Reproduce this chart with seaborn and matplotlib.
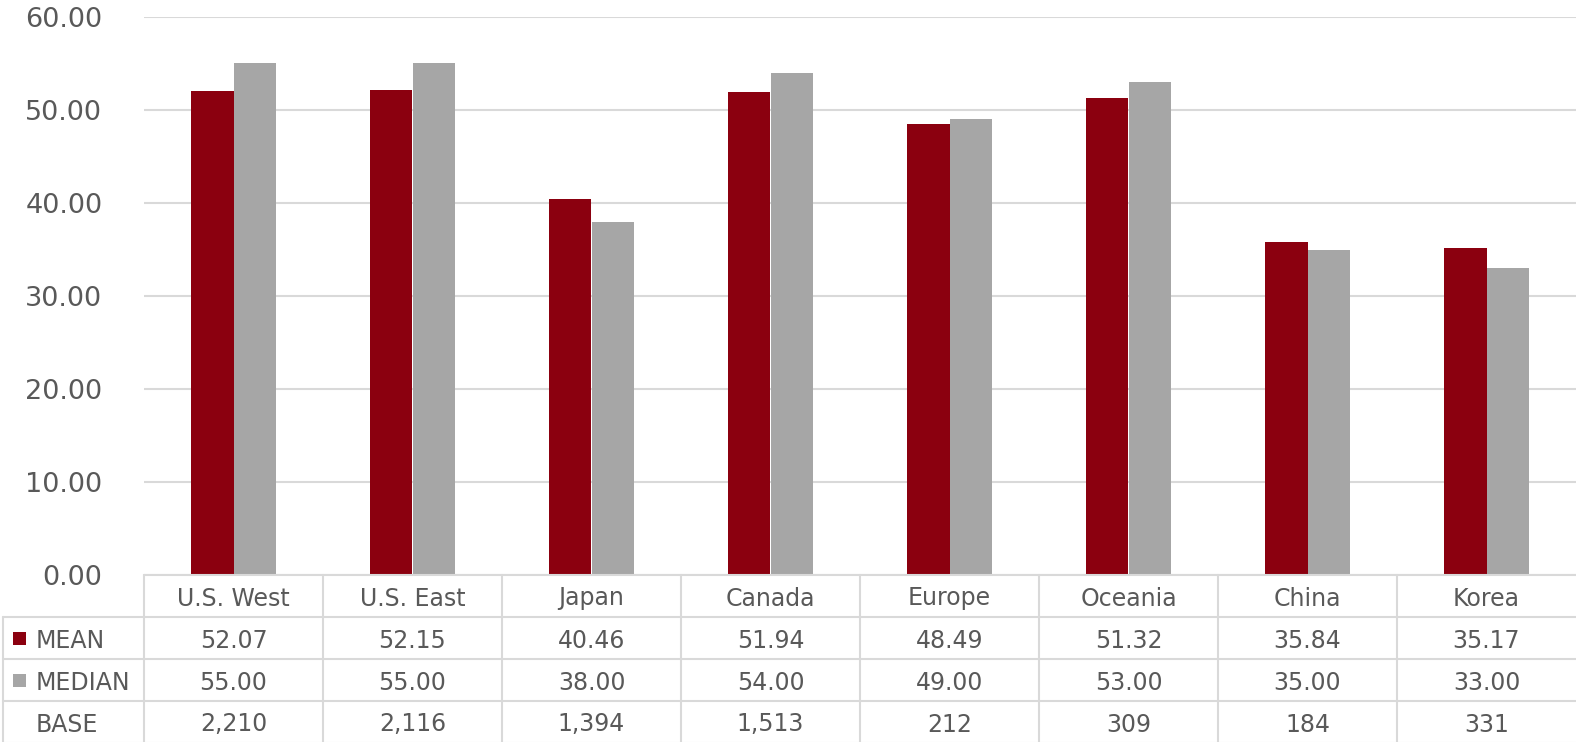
import pandas as pd
import numpy as np
import seaborn as sns
import matplotlib.pyplot as plt
import matplotlib.patches as patches
import matplotlib.transforms as transforms

regions = ['U.S. West', 'U.S. East', 'Japan', 'Canada', 'Europe', 'Oceania', 'China', 'Korea']
mean_vals = [52.07, 52.15, 40.46, 51.94, 48.49, 51.32, 35.84, 35.17]
median_vals = [55.00, 55.00, 38.00, 54.00, 49.00, 53.00, 35.00, 33.00]
base_vals = [2210, 2116, 1394, 1513, 212, 309, 184, 331]
yticks = [0, 10, 20, 30, 40, 50, 60]

red = '#8B000F'
gray = '#A6A6A6'
txt = '#595959'
line_c = '#D9D9D9'

df = pd.DataFrame({'region': regions * 2,
                   'value': mean_vals + median_vals,
                   'stat': ['MEAN'] * len(regions) + ['MEDIAN'] * len(regions)})

sns.set_style('white')
plt.rcParams['font.family'] = ['DejaVu Sans']

fig = plt.figure(figsize=(15.76, 7.42), dpi=100)
ax = fig.add_axes([144 / 1576, 1 - 575 / 742, 1 - 144 / 1576, (575 - 17) / 742])

sns.barplot(data=df, x='region', y='value', hue='stat', palette=[red, gray],
            width=0.475, gap=0, ax=ax, legend=False, saturation=1, edgecolor='none')

ax.set_ylim(0, 60)
ax.set_xlim(-0.5, len(regions) - 0.5)
ax.set_yticks(yticks)
ax.set_yticklabels(['{:.2f}'.format(t) for t in yticks], fontsize=19.5, color=txt)
ax.tick_params(axis='y', length=0, pad=30)
ax.set_xticks([])
ax.set_xlabel('')
ax.set_ylabel('')
ax.yaxis.grid(True, color=line_c, linewidth=1.5)
ax.set_axisbelow(True)
for s in ax.spines.values():
  s.set_visible(False)

# data table below the axes
trans = transforms.blended_transform_factory(ax.transData, ax.transAxes)
row_h = 42 / 558
n = len(regions)
left_x = -0.5 - 141 / 179  # label column width in data units
lkw = dict(color=line_c, linewidth=1.5, clip_on=False, transform=trans)

ax.plot([-0.5, n - 0.5], [0, 0], **lkw)
for r in range(1, 5):
  ax.plot([left_x, n - 0.5], [-r * row_h, -r * row_h], **lkw)
for k in range(n):
  ax.plot([k - 0.5, k - 0.5], [0, -4 * row_h], **lkw)
ax.plot([left_x, left_x], [-row_h, -4 * row_h], **lkw)

rows = [regions,
        ['{:.2f}'.format(v) for v in mean_vals],
        ['{:.2f}'.format(v) for v in median_vals],
        ['{:,}'.format(v) for v in base_vals]]
for r, row in enumerate(rows):
  yc = -(r + 0.5) * row_h
  for i, s in enumerate(row):
    ax.text(i, yc, s, transform=trans, ha='center', va='center_baseline', fontsize=17, color=txt)

labels = ['MEAN', 'MEDIAN', 'BASE']
swatches = [red, gray, None]
sq_w = 13 / 179
for r, (lab, col) in enumerate(zip(labels, swatches)):
  yc = -(r + 1.5) * row_h
  if col is not None:
    ax.add_patch(patches.Rectangle((left_x + 10 / 179, yc - 6.5 / 558), sq_w, 13 / 558,
                                   facecolor=col, edgecolor='none', transform=trans, clip_on=False))
  ax.text(left_x + 33 / 179, yc, lab, transform=trans, ha='left', va='center_baseline', fontsize=17, color=txt)

fig.savefig('out.png', dpi=100, facecolor='white')
